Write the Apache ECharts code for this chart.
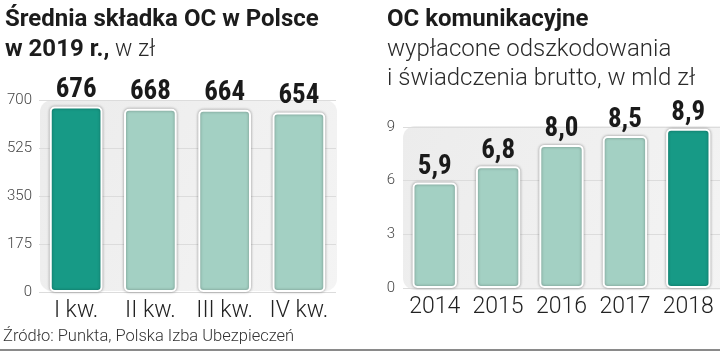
<!DOCTYPE html>
<html>
<head>
<meta charset="utf-8">
<script src="https://cdn.jsdelivr.net/npm/echarts@6/dist/echarts.min.js"></script>
<style>
  html, body { margin: 0; padding: 0; background: #fff; }
  #main { width: 720px; height: 351px; }
</style>
</head>
<body>
<div id="main"></div>
<script>
// dane
var kwartaly = ['I kw.', 'II kw.', 'III kw.', 'IV kw.'];
var skladka = [676, 668, 664, 654];
var lata = ['2014', '2015', '2016', '2017', '2018'];
var wyplaty = [5.9, 6.8, 8.0, 8.5, 8.9];
var tickiLewe = [0, 175, 350, 525, 700];
var tickiPrawe = [0, 3, 6, 9];

var ciemny = '#179a86';
var jasny = '#a3d0c3';
var fontLekki = 'Roboto, "Liberation Sans", sans-serif';
var fontWartosci = '"Liberation Sans Narrow", "Roboto Condensed", Roboto, sans-serif';

var chart = echarts.init(document.getElementById('main'));

function kolory(arr, idx) {
    return arr.map(function (v, i) {
        return { value: v, itemStyle: { color: i === idx ? ciemny : jasny } };
    });
}

var slupek = {
    borderColor: '#fff',
    borderWidth: 2,
    borderRadius: 4,
    shadowColor: 'rgba(0,0,0,0.35)',
    shadowBlur: 3
};

var tlo = {
    type: 'linear', x: 0, y: 0, x2: 1, y2: 1,
    colorStops: [{ offset: 0, color: '#ececec' }, { offset: 1, color: '#f4f4f4' }]
};

var option = {
    backgroundColor: '#fff',
    animation: false,
    title: [{
        left: 0, top: 0,
        text: 'Średnia składka OC w Polsce\n{b|w 2019 r.,}{n| w zł}',
        textStyle: {
            fontFamily: 'Roboto', fontWeight: 'bold', fontSize: 24, color: '#1c1c1c', lineHeight: 30,
            rich: {
                b: { fontFamily: 'Roboto', fontWeight: 'bold', fontSize: 24, color: '#1c1c1c', lineHeight: 30 },
                n: { fontFamily: 'Roboto', fontWeight: 300, fontSize: 23, color: '#2a2a2a', lineHeight: 30 }
            }
        }
    }, {
        left: 382, top: 0,
        text: 'OC komunikacyjne\n{n|wypłacone odszkodowania}\n{n|i świadczenia brutto, w mld zł}',
        textStyle: {
            fontFamily: 'Roboto', fontWeight: 'bold', fontSize: 24, color: '#1c1c1c', lineHeight: 30,
            rich: {
                n: { fontFamily: 'Roboto', fontWeight: 300, fontSize: 24, color: '#2a2a2a', lineHeight: 29 }
            }
        }
    }],
    graphic: [
        { type: 'rect', z: -1, shape: { x: 40, y: 100, width: 297, height: 191, r: 12 }, style: { fill: tlo } },
        { type: 'rect', z: -1, shape: { x: 403, y: 126, width: 330, height: 164, r: 12 }, style: { fill: tlo } },
        { type: 'text', left: 3, top: 328,
          style: { text: 'Źródło: Punkta, Polska Izba Ubezpieczeń', font: '300 16.5px ' + fontLekki, fill: '#333' } },
        { type: 'rect', shape: { x: 0, y: 349, width: 720, height: 2 }, style: { fill: '#8a8a8a' } }
    ],
    grid: [
        { left: 39, top: 100, width: 297, height: 192 },
        { left: 403, top: 127, width: 317, height: 161 }
    ],
    xAxis: [{
        gridIndex: 0, type: 'category', data: kwartaly,
        axisLine: { show: false }, axisTick: { show: false },
        axisLabel: { interval: 0, margin: 8, fontFamily: fontLekki, fontWeight: 300, fontSize: 23, color: '#222' }
    }, {
        gridIndex: 1, type: 'category', data: lata,
        axisLine: { show: false }, axisTick: { show: false },
        axisLabel: { interval: 0, margin: 8, fontFamily: fontLekki, fontWeight: 300, fontSize: 23, color: '#222' }
    }],
    yAxis: [{
        gridIndex: 0, type: 'value', min: tickiLewe[0], max: tickiLewe[tickiLewe.length - 1], interval: 175,
        axisLine: { show: false }, axisTick: { show: false },
        splitLine: { lineStyle: { color: '#dcdcdc', width: 1 } },
        axisLabel: { margin: 7, fontFamily: fontLekki, fontWeight: 300, fontSize: 15, color: '#444' }
    }, {
        gridIndex: 1, type: 'value', min: tickiPrawe[0], max: tickiPrawe[tickiPrawe.length - 1], interval: 3,
        axisLine: { show: false }, axisTick: { show: false },
        splitLine: { lineStyle: { color: '#dcdcdc', width: 1 } },
        axisLabel: { margin: 8, fontFamily: fontLekki, fontWeight: 300, fontSize: 15, color: '#444' }
    }],
    series: [{
        type: 'bar', xAxisIndex: 0, yAxisIndex: 0,
        barWidth: '71%',
        data: kolory(skladka, 0),
        itemStyle: slupek,
        label: {
            show: true, position: 'top', distance: 3,
            fontFamily: fontWartosci, fontWeight: 'bold', fontSize: 27, color: '#1a1a1a'
        }
    }, {
        type: 'bar', xAxisIndex: 1, yAxisIndex: 1,
        barWidth: '70%',
        data: kolory(wyplaty, wyplaty.length - 1),
        itemStyle: slupek,
        label: {
            show: true, position: 'top', distance: 2,
            fontFamily: fontWartosci, fontWeight: 'bold', fontSize: 27, color: '#1a1a1a',
            formatter: function (p) { return p.value.toFixed(1).replace('.', ','); }
        }
    }]
};

chart.setOption(option);
</script>
</body>
</html>
